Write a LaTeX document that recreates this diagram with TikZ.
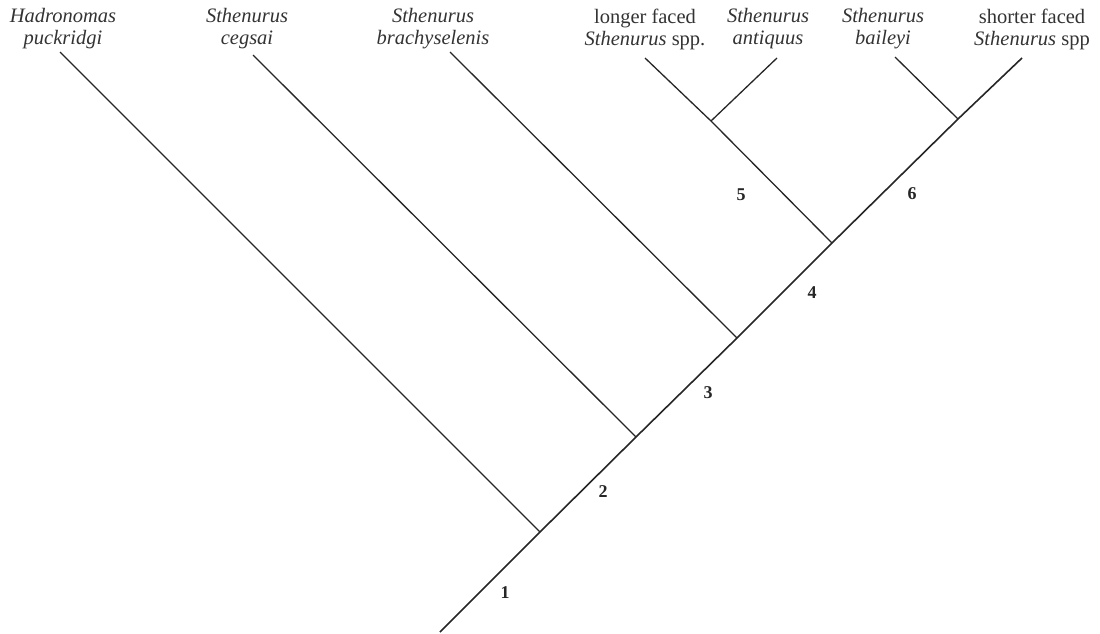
\documentclass[tikz,border=0pt]{standalone}
\usepackage{fontspec}
\setmainfont{Liberation Serif}
\begin{document}
\begin{tikzpicture}[x=1pt,y=-1pt,
  stem/.style={line width=1.6pt,draw=black!85},
  twig/.style={line width=1.3pt,draw=black!85},
  taxon/.style={align=center,inner sep=0pt,text=black!80,
    font=\fontsize{20.5}{22}\selectfont},
  clade/.style={inner sep=0pt,text=black!85,font=\fontsize{18}{20}\selectfont\bfseries}]
\useasboundingbox (0,0) rectangle (1100,634);

% internal nodes along the backbone
\coordinate (root) at (440,632);
\coordinate (nA) at (540,532);
\coordinate (nB) at (636,437);
\coordinate (nC) at (737,338);
\coordinate (nD) at (832,243);
\coordinate (nE) at (711,121);
\coordinate (nF) at (958,119);

% branch tips
\coordinate (tHad) at (60,52);
\coordinate (tCeg) at (253,55);
\coordinate (tBra) at (450,52);
\coordinate (tLon) at (645,58);
\coordinate (tAnt) at (777,58);
\coordinate (tBai) at (895,57);
\coordinate (tSho) at (1022,58);

% taxon labels
\node[taxon] (lHad) at (63,29) {\textit{Hadronomas}\\\textit{puckridgi}};
\node[taxon] (lCeg) at (247,29) {\textit{Sthenurus}\\\textit{cegsai}};
\node[taxon] (lBra) at (433,29) {\textit{Sthenurus}\\\textit{brachyselenis}};
\node[taxon] (lLon) at (645,29) {longer faced\\\textit{Sthenurus} spp.};
\node[taxon] (lAnt) at (768,29) {\textit{Sthenurus}\\\textit{antiquus}};
\node[taxon] (lBai) at (883,29) {\textit{Sthenurus}\\\textit{baileyi}};
\node[taxon] (lSho) at (1032,29) {shorter faced\\\textit{Sthenurus} spp};

% backbone
\draw[stem] (root) -- (nA) -- (nB) -- (nC) -- (nD) -- (nF) -- (tSho);
% side branches
\draw[twig] (nA) -- (tHad);
\draw[twig] (nB) -- (tCeg);
\draw[twig] (nC) -- (tBra);
\draw[twig] (nD) -- (nE) -- (tLon);
\draw[twig] (nE) -- (tAnt);
\draw[twig] (nF) -- (tBai);

% clade numbers
\node[clade] (c1) at (505,593) {1};
\node[clade] (c2) at (603,492) {2};
\node[clade] (c3) at (708,393) {3};
\node[clade] (c4) at (812,293) {4};
\node[clade] (c5) at (741,195) {5};
\node[clade] (c6) at (912,194) {6};
\end{tikzpicture}
\end{document}
